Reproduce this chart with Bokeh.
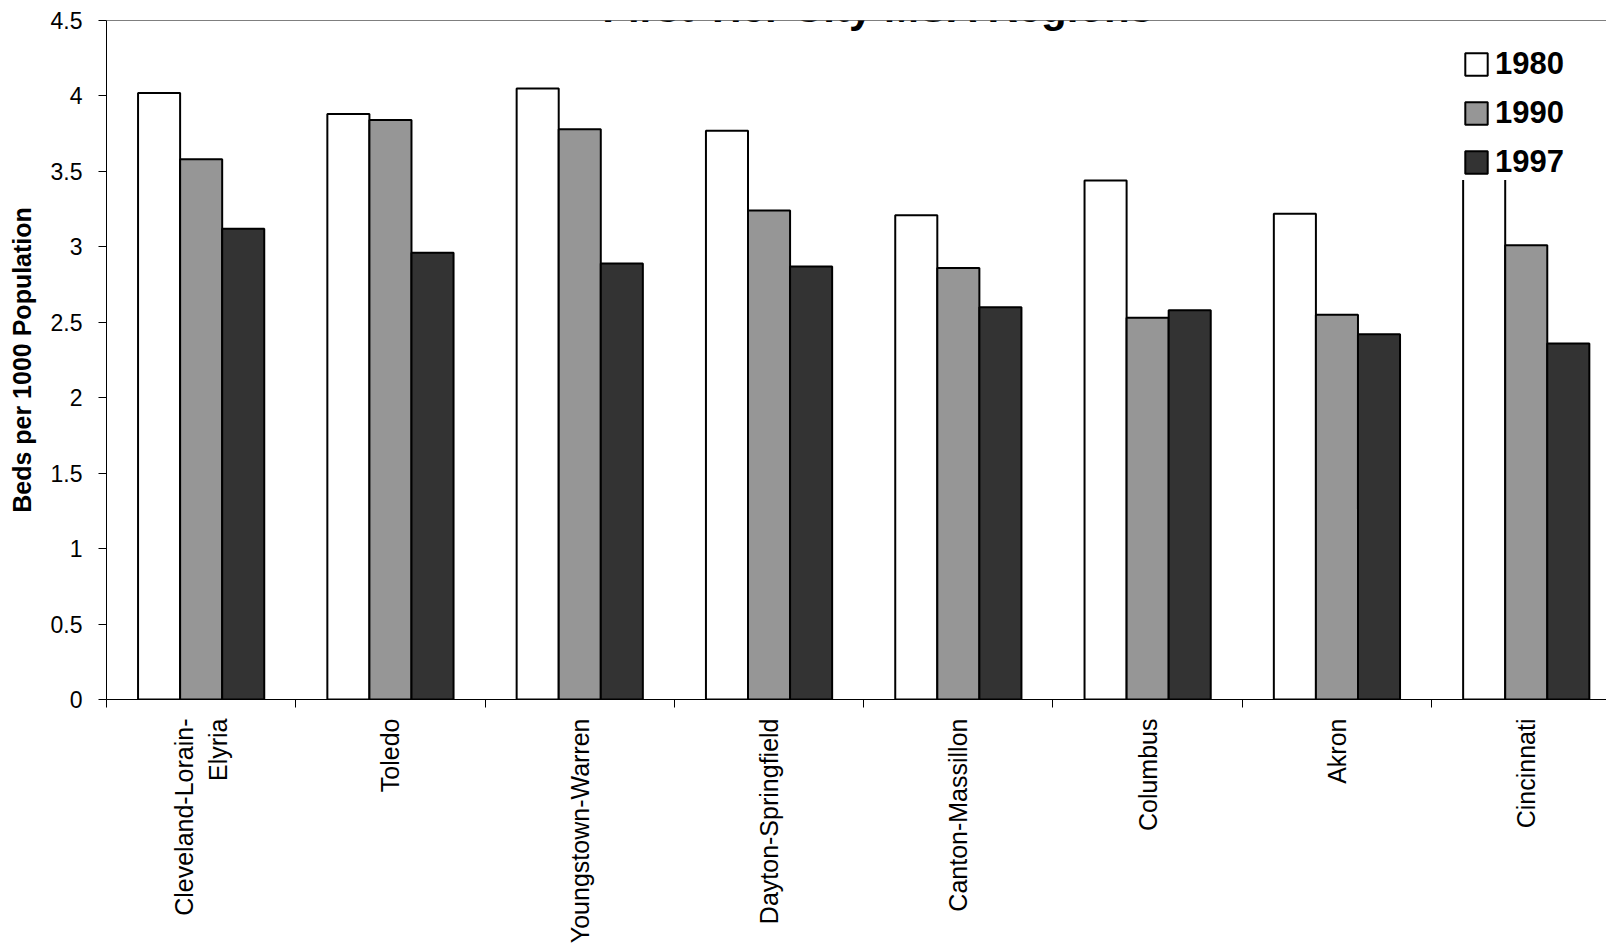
import math
from bokeh.plotting import figure
from bokeh.models import Range1d, FixedTicker, Legend, LegendItem, Label, Span, NumeralTickFormatter
from bokeh.embed import file_html
from bokeh.resources import INLINE

# ---- data ----
regions = ["Cleveland-Lorain-\nElyria", "Toledo", "Youngstown-Warren", "Dayton-Springfield",
           "Canton-Massillon", "Columbus", "Akron", "Cincinnati"]
years = ["1980", "1990", "1997"]
beds_1980 = [4.02, 3.88, 4.05, 3.77, 3.21, 3.44, 3.22, 3.70]
beds_1990 = [3.58, 3.84, 3.78, 3.24, 2.86, 2.53, 2.55, 3.01]
beds_1997 = [3.12, 2.96, 2.89, 2.87, 2.60, 2.58, 2.42, 2.36]
y_ticks = [0, 0.5, 1, 1.5, 2, 2.5, 3, 3.5, 4, 4.5]
title_text = "First Tier City MSA Regions"
y_title = "Beds per 1000 Population"

# ---- layout ----
series = [beds_1980, beds_1990, beds_1997]
colors = ["#FFFFFF", "#969696", "#333333"]
n = len(regions)
centers = [i + 0.5 for i in range(n)]
bar_w = 1 / 4.5
offsets = [-bar_w, 0.0, bar_w]

FONT = "Liberation Sans"

p = figure(width=1606, height=948, output_backend="svg", toolbar_location=None,
           x_range=Range1d(0, 7.924), y_range=Range1d(0, 4.5),
           min_border_left=106, min_border_top=20, min_border_bottom=249, min_border_right=0,
           background_fill_color="white", border_fill_color="white")
p.outline_line_color = None
p.xgrid.visible = False
p.ygrid.visible = False

renderers = []
for vals, col, off in zip(series, colors, offsets):
    r = p.vbar(x=[c + off for c in centers], top=vals, width=bar_w, bottom=0,
               fill_color=col, line_color="black", line_width=2)
    renderers.append(r)

# y axis
ya = p.yaxis[0]
ya.ticker = FixedTicker(ticks=y_ticks)
ya.formatter = NumeralTickFormatter(format="0.[0]")
ya.major_tick_out = 8
ya.major_tick_in = 0
ya.minor_tick_out = 0
ya.minor_tick_in = 0
ya.axis_line_color = "black"
ya.major_tick_line_color = "black"
ya.major_label_text_font = FONT
ya.major_label_text_font_size = "23px"
ya.major_label_text_color = "black"
ya.major_label_standoff = 16
ya.axis_label = y_title
ya.axis_label_text_font = FONT
ya.axis_label_text_font_size = "25px"
ya.axis_label_text_font_style = "bold"
ya.axis_label_text_color = "black"
ya.axis_label_standoff = 12

# x axis
xa = p.xaxis[0]
xa.ticker = FixedTicker(ticks=centers, minor_ticks=[float(i) for i in range(n + 1)])
xa.major_label_overrides = {c: lab for c, lab in zip(centers, regions)}
xa.major_tick_out = 0
xa.major_tick_in = 0
xa.minor_tick_out = 8
xa.minor_tick_in = 0
xa.minor_tick_line_color = "black"
xa.axis_line_color = "black"
xa.major_label_orientation = math.pi / 2
xa.major_label_text_font = FONT
xa.major_label_text_font_size = "25px"
xa.major_label_text_color = "black"
xa.major_label_standoff = 11
xa.axis_label_standoff = 0

# top border of plot area
p.add_layout(Span(location=4.5, dimension="width", line_color="black", line_width=1))

# title (partly cut off at top, as in reference)
p.add_layout(Label(x=4.078, y=4.585, text=title_text, text_font=FONT, text_font_size="42px",
                   text_font_style="bold", text_align="center", text_baseline="alphabetic",
                   text_color="black"))

legend = Legend(items=[LegendItem(label=y, renderers=[r]) for y, r in zip(years, renderers)],
                location=(1356, 519), glyph_width=28, glyph_height=28, label_height=22,
                label_text_font=FONT, label_text_font_size="31px", label_text_font_style="bold",
                label_text_color="black", label_standoff=5, spacing=13, padding=16, margin=0,
                border_line_color=None, background_fill_color="white", background_fill_alpha=1.0)
p.add_layout(legend)

open("out.html", "w").write(file_html(p, INLINE))
